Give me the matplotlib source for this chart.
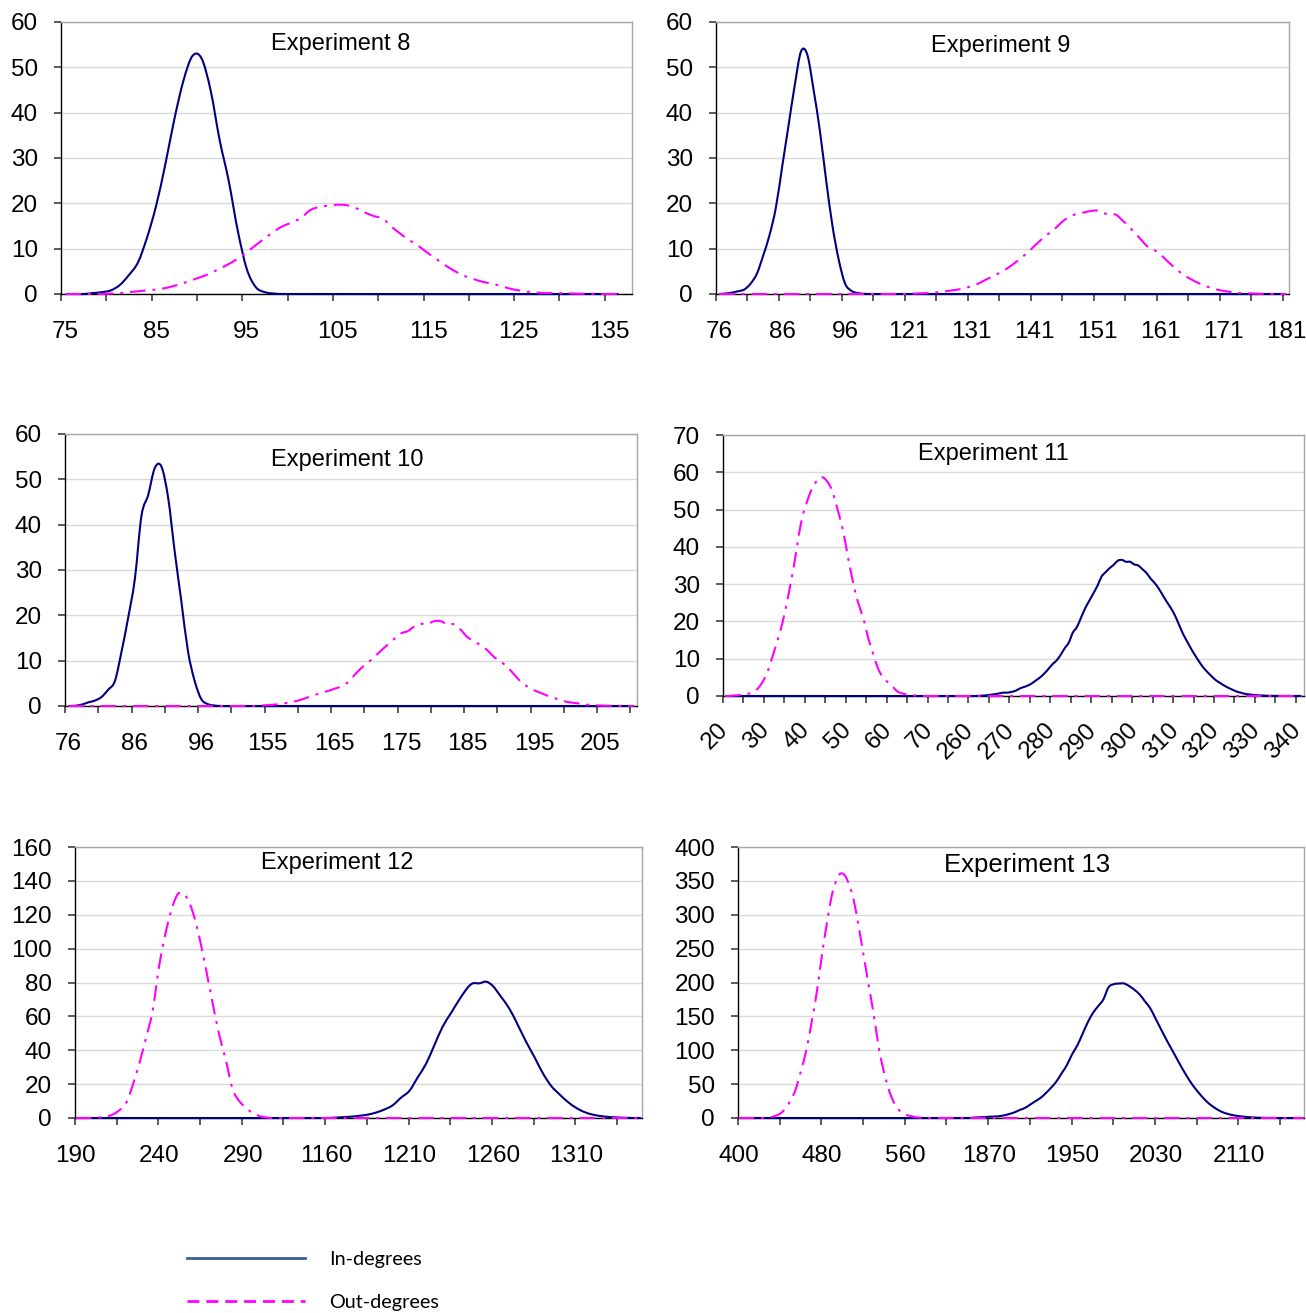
import matplotlib
matplotlib.use("Agg")
import matplotlib.pyplot as plt
from matplotlib.lines import Line2D
from matplotlib.patches import PathPatch
from matplotlib.path import Path
from matplotlib.ticker import FixedLocator, FixedFormatter

plt.rcParams["font.family"] = ["Liberation Sans", "DejaVu Sans"]

IN_COLOR = "#000080"
OUT_COLOR = "#FF00FF"

# ---- Experiment 8 ----
exp8_cats = list(range(75, 138))
exp8_in_x = list(range(75, 100)) + [136]
exp8_in_y = [0, 0, 0, 0.2, 0.4, 0.8, 2, 4.2, 7, 12.5, 19.5, 28.5, 38.5, 47, 52.5,
             52, 45, 34, 25, 14, 5.5, 1.5, 0.4, 0.1, 0, 0]
exp8_out_x = list(range(75, 137))
exp8_out_y = [0, 0, 0, 0, 0, 0.1, 0.2, 0.4, 0.6, 0.8, 1, 1.3, 1.8, 2.4, 3.1,
              3.8, 4.6, 5.6, 6.6, 7.8, 9.2, 10.8, 12.3, 13.8, 15, 15.8, 16.8, 18.5, 19.2, 19.5,
              19.7, 19.6, 19, 18, 17.2, 16.6, 14.8, 13.2, 11.8, 10.5, 9, 7.6, 6.2, 5, 4,
              3.3, 2.7, 2.3, 1.8, 1.2, 0.8, 0.5, 0.3, 0.2, 0.2, 0.15, 0.1, 0.05, 0.05, 0,
              0, 0]

# ---- Experiment 9 ----
exp9_cats = list(range(76, 101)) + list(range(116, 182))
exp9_in_x = list(range(76, 101)) + [181]
exp9_in_y = [0, 0.1, 0.3, 0.6, 1, 2.3, 4.5, 8.5, 13, 19, 28, 37, 46, 53.5, 52.8,
             45, 36, 25, 15, 7.5, 2.3, 0.7, 0.2, 0.05, 0, 0]
exp9_out_x = [76, 120] + list(range(121, 182))
exp9_out_y = [0, 0, 0.05, 0.1, 0.15, 0.2, 0.3, 0.4, 0.6, 0.8, 1.0, 1.3, 1.7, 2.2, 2.9, 3.6,
              4.3, 5, 5.9, 6.9, 8, 9.2, 10.5, 11.8, 13, 14, 15.3, 16.5, 17.3, 17.7, 18,
              18.3, 18.4, 17.9, 17.5, 17.5, 16.3, 15, 13.5, 12, 10.5, 9.8, 8.8, 7.5, 6.2, 5,
              4, 3.2, 2.5, 1.9, 1.4, 1, 0.7, 0.5, 0.3, 0.2, 0.15, 0.1, 0.05, 0, 0, 0, 0]

# ---- Experiment 10 ----
exp10_cats = list(range(76, 101)) + list(range(150, 211))
exp10_in_x = list(range(76, 101)) + [210]
exp10_in_y = [0, 0.05, 0.3, 0.8, 1.2, 2, 3.6, 5.5, 12, 19.5, 28, 42, 46.5, 52.5, 52.8,
              46, 34, 23, 12, 5.5, 1.5, 0.4, 0.1, 0, 0, 0]
exp10_out_x = [76, 153] + list(range(154, 207)) + [210]
exp10_out_y = [0, 0, 0.1, 0.2, 0.3, 0.5, 0.7, 1, 1.4, 1.9, 2.4, 2.9, 3.3, 3.8, 4.3, 5.2,
               6.8, 8.3, 9.5, 10.8, 12.2, 13.5, 14.8, 16, 16.5, 17.5, 18.1, 18.1, 18.7, 18.7,
               18, 18, 16.8, 15.2, 14.3, 13.4, 12.3, 10.8, 9.8, 8.6, 7, 5.4, 4.3, 3.5, 2.9,
               2.3, 1.8, 1.3, 0.9, 0.7, 0.5, 0.3, 0.2, 0.1, 0.05, 0]

# ---- Experiment 11 ----
exp11_cats = list(range(20, 76)) + list(range(256, 342))
exp11_in_x = [20, 261] + list(range(262, 334)) + [341]
exp11_in_y = [0, 0, 0.05, 0.1, 0.2, 0.35, 0.5, 0.7, 0.9, 0.9, 1.1, 1.4, 2, 2.4, 2.8, 3.4,
              4.2, 5, 6, 7.2, 8.5, 9.5, 11, 12.8, 14.3, 17, 18.5, 21, 23.5, 25.5, 27.5,
              29.5, 32, 33.2, 34.3, 35.2, 36.3, 36.5, 36, 36, 35.3, 35, 34, 33, 31.5, 30.3,
              28.8, 27, 25.2, 23.5, 21.5, 19, 16.5, 14.5, 12.5, 10.7, 9, 7.5, 6.3, 5.2, 4.2,
              3.5, 2.8, 2.2, 1.7, 1.2, 0.9, 0.6, 0.45, 0.3, 0.2, 0.15, 0.1, 0.05, 0]
exp11_out_x = list(range(20, 70)) + [341]
exp11_out_y = [0, 0, 0.1, 0.2, 0.3, 0.5, 0.7, 1.2, 2, 3.5, 5.5, 8.5, 12, 15.5, 19.5,
               24.5, 30, 36, 43, 48.5, 52, 55, 57, 58.5, 58.6, 57.5, 55.5, 52, 48, 43.5,
               37.5, 32, 27, 23.5, 20, 15.5, 12, 8.5, 6, 4.5, 3.5, 2.5, 1.3, 0.8, 0.5,
               0.3, 0.2, 0.1, 0.05, 0, 0]

# ---- Experiment 12 ----
exp12_cats = list(range(190, 315)) + list(range(1135, 1350))
exp12_in_x = [190, 1160, 1165, 1170, 1175, 1180, 1185, 1190, 1195, 1200, 1205, 1210, 1215,
              1220, 1225, 1230, 1235, 1240, 1245, 1248, 1252, 1256, 1260, 1265, 1270, 1275,
              1280, 1285, 1290, 1295, 1300, 1305, 1310, 1315, 1320, 1325, 1330, 1335, 1340,
              1345, 1349]
exp12_in_y = [0, 0, 0.2, 0.5, 0.8, 1.3, 2, 3.2, 5, 7.5, 12, 16, 24, 32, 43, 54, 62, 70,
              77, 79.5, 79.5, 80.5, 78, 71.5, 64.5, 55, 45, 36, 26.5, 19, 14, 9.5, 6, 3.5,
              2, 1.1, 0.6, 0.3, 0.1, 0, 0]
exp12_out_x = [190, 200, 204, 208, 212, 216, 220, 224, 228, 232, 236, 240, 244, 248, 251,
               253, 256, 260, 264, 268, 272, 276, 280, 284, 288, 292, 296, 300, 304, 308,
               314, 1349]
exp12_out_y = [0, 0, 0.3, 0.8, 2, 4.5, 8.5, 19, 32, 47, 63, 90, 110, 125, 132, 133, 131,
               122, 107, 88, 68, 49, 34, 17, 10, 6, 3, 1.2, 0.3, 0, 0, 0]

# ---- Experiment 13 ----
exp13_cats = list(range(400, 600)) + list(range(1830, 2173))
exp13_in_x = [400] + list(range(1850, 2141, 5)) + [2150, 2172]
exp13_in_y = [0, 0, 0.5, 1, 1.3, 1.8, 2.2, 2.6, 4, 6, 8.5, 12, 15, 20, 25, 30, 37, 45, 54,
              66, 78, 94, 107, 124, 141, 155, 165, 175, 193, 197.5, 198.5, 198.5, 194.5,
              189, 182, 172, 162, 147, 132, 117, 103, 89, 75, 62, 50, 40, 31, 23, 17, 12,
              8.2, 5.8, 4, 2.8, 1.9, 1.2, 0.7, 0.4, 0.2, 0.1, 0, 0]
exp13_out_x = [400, 420, 425, 430, 435, 440, 445, 450, 455, 460, 465, 470, 475, 480, 485,
               490, 495, 498, 502, 506, 510, 515, 520, 525, 530, 535, 540, 545, 550, 555,
               560, 565, 570, 575, 580, 599, 2172]
exp13_out_y = [0, 0, 0.3, 1, 3, 6.5, 14, 26, 43, 70, 100, 140, 185, 240, 290, 332, 355,
               361, 358, 345, 325, 285, 240, 195, 150, 100, 65, 38, 20, 10, 5, 3, 1.2, 0.4,
               0, 0, 0]

W, H = 1306, 1313


def rect(l, t, r, b):
    return [l / W, 1 - b / H, (r - l) / W, (b - t) / H]


def smooth_path(xs, ys):
    # Excel style "smoothed line": cubic Hermite segments through the points
    n = len(xs)
    m = []
    for i in range(n):
        if i == 0:
            m.append((ys[1] - ys[0]) / (xs[1] - xs[0]))
        elif i == n - 1:
            m.append((ys[-1] - ys[-2]) / (xs[-1] - xs[-2]))
        else:
            m.append((ys[i + 1] - ys[i - 1]) / (xs[i + 1] - xs[i - 1]))
    verts = [(xs[0], ys[0])]
    codes = [Path.MOVETO]
    for i in range(n - 1):
        h = xs[i + 1] - xs[i]
        verts += [(xs[i] + h / 3, ys[i] + m[i] * h / 3),
                  (xs[i + 1] - h / 3, ys[i + 1] - m[i + 1] * h / 3),
                  (xs[i + 1], ys[i + 1])]
        codes += [Path.CURVE4] * 3
    return Path(verts, codes)


panels = [
    dict(title="Experiment 8", cats=exp8_cats, inx=exp8_in_x, iny=exp8_in_y,
         outx=exp8_out_x, outy=exp8_out_y, tick=5, lab=10, ymax=60, ystep=10,
         box=rect(61, 22, 632, 294), tpos=(0.489, 0.919), tsize=17, rot=False),
    dict(title="Experiment 9", cats=exp9_cats, inx=exp9_in_x, iny=exp9_in_y,
         outx=exp9_out_x, outy=exp9_out_y, tick=5, lab=10, ymax=60, ystep=10,
         box=rect(716, 22, 1289, 294), tpos=(0.497, 0.912), tsize=17, rot=False),
    dict(title="Experiment 10", cats=exp10_cats, inx=exp10_in_x, iny=exp10_in_y,
         outx=exp10_out_x, outy=exp10_out_y, tick=5, lab=10, ymax=60, ystep=10,
         box=rect(65, 434, 637, 706), tpos=(0.494, 0.904), tsize=17, rot=False),
    dict(title="Experiment 11", cats=exp11_cats, inx=exp11_in_x, iny=exp11_in_y,
         outx=exp11_out_x, outy=exp11_out_y, tick=5, lab=10, ymax=70, ystep=10,
         box=rect(723, 435, 1304, 696), tpos=(0.465, 0.927), tsize=17, rot=True),
    dict(title="Experiment 12", cats=exp12_cats, inx=exp12_in_x, iny=exp12_in_y,
         outx=exp12_out_x, outy=exp12_out_y, tick=25, lab=50, ymax=160, ystep=20,
         box=rect(75, 847, 642, 1118), tpos=(0.462, 0.941), tsize=17, rot=False),
    dict(title="Experiment 13", cats=exp13_cats, inx=exp13_in_x, iny=exp13_in_y,
         outx=exp13_out_x, outy=exp13_out_y, tick=40, lab=80, ymax=400, ystep=50,
         box=rect(738, 847, 1304, 1118), tpos=(0.51, 0.934), tsize=18.5, rot=False),
]

fig = plt.figure(figsize=(W / 100, H / 100), dpi=100)
fig.patch.set_facecolor("white")

for p in panels:
    ax = fig.add_axes(p["box"])
    cats = p["cats"]
    n = len(cats)
    pos = {c: k for k, c in enumerate(cats)}

    in_path = smooth_path([pos[c] for c in p["inx"]], p["iny"])
    out_path = smooth_path([pos[c] for c in p["outx"]], p["outy"])
    ax.add_patch(PathPatch(in_path, fill=False, edgecolor=IN_COLOR, lw=1.5,
                           joinstyle="round", zorder=3, clip_on=False))
    ax.add_patch(PathPatch(out_path, fill=False, edgecolor=OUT_COLOR, lw=1.5,
                           linestyle=(0, (7.5, 3.3, 1.4, 3.3)), capstyle="butt",
                           zorder=4, clip_on=False))

    ax.set_xlim(-0.5, n - 0.5)
    ax.set_ylim(0, p["ymax"])

    lab_idx = list(range(0, n, p["lab"]))
    ax.xaxis.set_major_locator(FixedLocator(lab_idx))
    ax.xaxis.set_major_formatter(FixedFormatter([str(cats[k]) for k in lab_idx]))
    ax.xaxis.set_minor_locator(FixedLocator([k - 0.5 for k in range(0, n, p["tick"])]))
    ax.set_yticks(range(0, p["ymax"] + 1, p["ystep"]))

    ax.tick_params(axis="x", which="minor", length=5, width=1.2, color="#404040",
                   direction="out")
    if p["rot"]:
        ax.tick_params(axis="x", which="major", length=0, pad=22, labelsize=17.5)
        for t in ax.get_xticklabels():
            t.set_rotation(45)
            t.set_ha("right")
            t.set_va("center")
            t.set_rotation_mode("anchor")
    else:
        ax.tick_params(axis="x", which="major", length=0, pad=19.5, labelsize=17.5)
    ax.tick_params(axis="y", length=5, width=1.2, color="#404040", pad=11.5,
                   labelsize=17.5)

    ax.grid(axis="y", color="#D9D9D9", lw=1.0)
    ax.set_axisbelow(True)
    for s in ("top", "right"):
        ax.spines[s].set_color("#A6A6A6")
        ax.spines[s].set_linewidth(1.0)
    for s in ("left", "bottom"):
        ax.spines[s].set_color("#000000")
        ax.spines[s].set_linewidth(1.0)

    ax.text(p["tpos"][0], p["tpos"][1], p["title"], transform=ax.transAxes,
            ha="center", va="center", fontsize=p["tsize"], zorder=5)

handles = [Line2D([0], [0], color="#3A5D9C", lw=2),
           Line2D([0], [0], color=OUT_COLOR, lw=2, ls=(0, (4.3, 2.5)))]
fig.legend(handles, ["In-degrees", "Out-degrees"], loc="upper left",
           bbox_to_anchor=(187 / W, 1 - 1251 / H), frameon=False,
           prop={"family": "Lato", "size": 14.3}, handlelength=5.94,
           handletextpad=1.21, labelspacing=1.31, borderpad=0, borderaxespad=0)

fig.savefig("out.png", dpi=100, facecolor="white")
